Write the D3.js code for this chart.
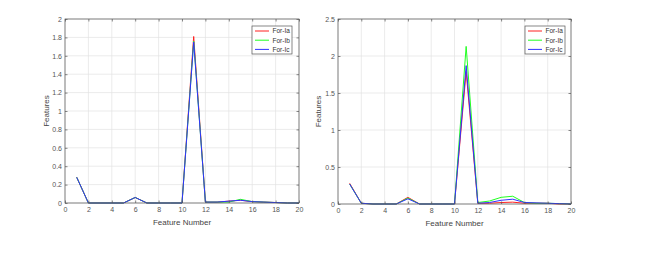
<!DOCTYPE html>
<html><head><meta charset="utf-8">
<script src="https://cdn.jsdelivr.net/npm/d3@7"></script>
<style>body{margin:0;background:#fff}svg{display:block}text{font-family:"Liberation Sans",Arial,sans-serif}</style>
</head><body>
<svg id="c" width="661" height="255"></svg>
<script>
const features = d3.range(1, 21);
const seriesNames = ["For-Ia", "For-Ib", "For-Ic"];
const colors = ["#ff2020", "#20ff20", "#3030ff"];
const xTicks = [0,2,4,6,8,10,12,14,16,18,20];
const leftYTicks = [0,0.2,0.4,0.6,0.8,1,1.2,1.4,1.6,1.8,2];
const rightYTicks = [0,0.5,1,1.5,2,2.5];

const leftIa = [0.28,0,0,0,0,0.06,0,0,0,0,1.81,0.01,0.01,0.02,0.03,0.015,0.01,0.005,0,0];
const leftIb = [0.28,0,0,0,0,0.06,0,0,0,0,1.76,0.01,0.01,0.01,0.04,0.015,0.01,0.005,0,0];
const leftIc = [0.28,0,0,0,0,0.06,0,0,0,0,1.75,0.01,0.01,0.02,0.03,0.015,0.01,0.005,0,0];

const rightIa = [0.28,0.01,0,0,0,0.09,0,0,0,0,1.79,0.01,0.01,0.02,0.025,0.01,0.01,0.01,0,0];
const rightIb = [0.27,0.01,0,0,0,0.08,0,0,0,0,2.13,0.02,0.04,0.09,0.105,0.02,0.01,0.01,0.005,0];
const rightIc = [0.27,0.01,0,0,0,0.07,0,0,0,0,1.87,0.01,0.02,0.05,0.065,0.02,0.015,0.01,0.005,0];

const svg = d3.select("#c");

function panel(opts) {
  const {x0, x1, y0, y1, yMax, yTicks, series, legendX, labelX, fmt} = opts;
  const g = svg.append("g");
  const x = d3.scaleLinear().domain([0, 20]).range([x0, x1]);
  const y = d3.scaleLinear().domain([0, yMax]).range([y1, y0]);
  // grid
  g.append("g").selectAll("line").data(xTicks).join("line")
    .attr("x1", d => x(d)).attr("x2", d => x(d)).attr("y1", y0).attr("y2", y1)
    .attr("stroke", "#e3e3e3").attr("stroke-width", 0.7);
  g.append("g").selectAll("line").data(yTicks).join("line")
    .attr("x1", x0).attr("x2", x1).attr("y1", d => y(d)).attr("y2", d => y(d))
    .attr("stroke", "#e3e3e3").attr("stroke-width", 0.7);
  // lines
  const line = d3.line().x((d, i) => x(features[i])).y(d => y(d));
  series.forEach((s, i) => {
    g.append("path").datum(s).attr("d", line).attr("fill", "none")
      .attr("stroke", colors[i]).attr("stroke-width", 1);
  });
  // box
  g.append("rect").attr("x", x0).attr("y", y0).attr("width", x1 - x0).attr("height", y1 - y0)
    .attr("fill", "none").attr("stroke", "#555").attr("stroke-width", 0.7);
  // axes (ticks inside)
  const ax = d3.axisBottom(x).tickValues(xTicks).tickSize(-2.5).tickPadding(4.5).tickFormat(d3.format("d"));
  const axG = g.append("g").attr("transform", `translate(0,${y1})`).call(ax);
  const axT = g.append("g").attr("transform", `translate(0,${y0})`).call(d3.axisTop(x).tickValues(xTicks).tickSize(-2.5).tickFormat(""));
  const ay = d3.axisLeft(y).tickValues(yTicks).tickSize(-2.5).tickPadding(3).tickFormat(fmt);
  const ayG = g.append("g").attr("transform", `translate(${x0},0)`).call(ay);
  const ayR = g.append("g").attr("transform", `translate(${x1},0)`).call(d3.axisRight(y).tickValues(yTicks).tickSize(-2.5).tickFormat(""));
  [axG, axT, ayG, ayR].forEach(a => {
    a.select(".domain").remove();
    a.selectAll("line").attr("stroke", "#555").attr("stroke-width", 0.7);
    a.selectAll("text").attr("fill", "#555").attr("font-size", 7);
  });
  // axis labels
  g.append("text").attr("x", (x0 + x1) / 2).attr("y", y1 + 22).attr("text-anchor", "middle")
    .attr("font-size", 8).attr("fill", "#444").text("Feature Number");
  g.append("text").attr("transform", `translate(${labelX},${(y0 + y1) / 2}) rotate(-90)`)
    .attr("text-anchor", "middle").attr("font-size", 8).attr("fill", "#444").text("Features");
  // legend
  const lg = g.append("g").attr("transform", `translate(${legendX},26)`);
  lg.append("rect").attr("width", 40).attr("height", 28).attr("fill", "#fff")
    .attr("stroke", "#555").attr("stroke-width", 0.7);
  seriesNames.forEach((n, i) => {
    const yy = 5 + i * 9.2;
    lg.append("line").attr("x1", 3).attr("x2", 17).attr("y1", yy).attr("y2", yy)
      .attr("stroke", colors[i]).attr("stroke-width", 1);
    lg.append("text").attr("x", 20.5).attr("y", yy + 2.3).attr("font-size", 6.5)
      .attr("fill", "#333").text(n);
  });
}

panel({x0: 65, x1: 299, y0: 19, y1: 203, yMax: 2, yTicks: leftYTicks,
  series: [leftIa, leftIb, leftIc], legendX: 252, labelX: 49, fmt: d3.format("~g")});
panel({x0: 338, x1: 571, y0: 19, y1: 204, yMax: 2.5, yTicks: rightYTicks,
  series: [rightIa, rightIb, rightIc], legendX: 525, labelX: 321, fmt: d3.format("~g")});
</script>
</body></html>
